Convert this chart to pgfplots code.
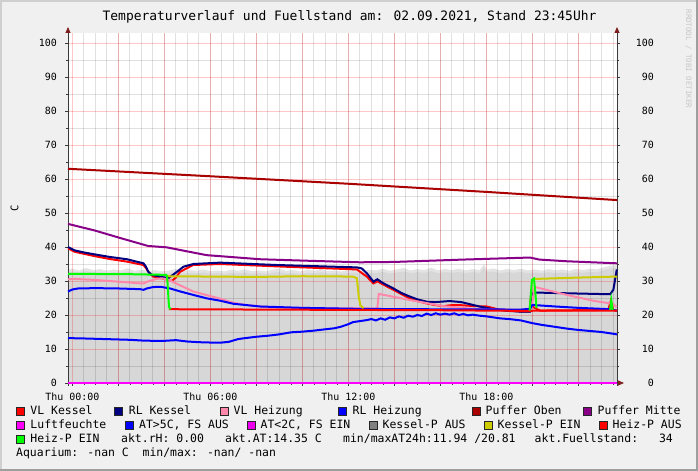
\documentclass[border=0pt]{standalone}
\usepackage{fontspec}
\setmainfont{DejaVu Sans Mono}
\usepackage{xcolor}
\usepackage{pgfplots}
\pgfplotsset{compat=1.18}
\usetikzlibrary{arrows.meta}
\definecolor{bg}{HTML}{F0F0F0}
\definecolor{shadea}{HTML}{CFCFCF}
\definecolor{shadeb}{HTML}{9E9E9E}
\definecolor{axiscol}{HTML}{3A3A3A}
\definecolor{arrowcol}{HTML}{7F1F1F}
\definecolor{cVLK}{HTML}{FF0000}
\definecolor{cRLK}{HTML}{000080}
\definecolor{cVLH}{HTML}{FF88AA}
\definecolor{cRLH}{HTML}{0000FF}
\definecolor{cPO}{HTML}{AA0000}
\definecolor{cPM}{HTML}{880088}
\definecolor{cLF}{HTML}{FF00FF}
\definecolor{cAT}{HTML}{0000FF}
\definecolor{cAT2}{HTML}{EE00EE}
\definecolor{cKPA}{HTML}{808080}
\definecolor{cKPE}{HTML}{CCCC00}
\definecolor{cHPA}{HTML}{FF0000}
\definecolor{cHPE}{HTML}{00FF00}
\definecolor{areaA}{HTML}{D7D7D7}
\definecolor{areaB}{HTML}{E3E3E3}
\newcommand{\lgf}{\fontsize{11.5}{13}\selectfont}
\newcommand{\lbox}[3]{\fill[#3,draw=black!85,line width=0.6bp] (#1,#2-4) rectangle (#1+8,#2+4);}
\begin{document}%
\pagecolor{bg}%
\begin{tikzpicture}[x=1bp,y=1bp]
\path (0,0) rectangle (698,471);
\begin{axis}[
  at={(68bp,88bp)}, anchor=south west,
  width=549bp, height=350bp, scale only axis,
  set layers, clip=false,
  xmin=-0.19, xmax=23.68, ymin=0, ymax=102.94,
  axis background/.style={fill=white},
  axis line style={draw=none},
  unbounded coords=jump,
  xtick={0,2,...,22},
  xticklabels={Thu 00:00,,,Thu 06:00,,,Thu 12:00,,,Thu 18:00,,},
  minor xtick={0.5,1,...,23.5},
  ytick={0,10,...,100},
  yticklabels={0,10,20,30,40,50,60,70,80,90,100},
  minor ytick={5,15,...,95},
  grid=both,
  major grid style={draw=red, opacity=0.22, line width=0.75bp},
  minor grid style={draw=black, opacity=0.12, line width=0.75bp},
  tick align=outside, xtick pos=bottom, ytick pos=both, yticklabel pos=left,
  major tick length=3bp, minor tick length=2bp,
  tick style={color=axiscol, line width=0.7bp},
  tick label style={font=\fontsize{10}{12}\selectfont, inner sep=0pt},
  xticklabel style={anchor=base, yshift=-15bp},
  yticklabel style={anchor=east, xshift=-8bp},
  ylabel={C},
  every axis y label/.style={at={(rel axis cs:0,0.5)}, xshift=-53.5bp, rotate=90, anchor=center, font=\fontsize{10.5}{12}\selectfont},
  title={Temperaturverlauf und Fuellstand am: 02.09.2021, Stand 23:45Uhr},
  every axis title/.style={at={(rel axis cs:0.5128,1)}, anchor=base, yshift=12.3bp, font=\fontsize{13}{15}\selectfont},
]
% Fuellstand area (light envelope and main)
\addplot[fill=areaB, draw=none, on layer=axis background] coordinates {
(-0.19,33.4) (0.0,33.6) (0.3,33.1) (0.6,33.8) (0.9,33.2) (1.2,33.5) (1.5,33.0) (1.8,33.4) (2.1,33.1) (2.4,33.7) (2.7,33.0) (3.0,33.3) (3.3,32.9) (3.6,33.2) (3.9,32.8) (4.2,33.1) (4.5,33.5) (4.8,32.9) (5.1,33.2) (5.4,33.0) (5.7,33.4) (6.0,32.9) (6.3,33.1) (6.6,32.8) (6.9,33.3) (7.2,33.0) (7.5,33.4) (7.8,32.9) (8.1,33.1) (8.4,32.8) (8.7,33.3) (9.0,33.6) (9.3,33.0) (9.6,33.2) (9.9,32.8) (10.2,33.3) (10.5,33.0) (10.8,33.5) (11.1,32.9) (11.4,33.1) (11.7,32.8) (12.0,33.1) (12.3,33.4) (12.6,32.9) (12.9,33.3) (13.2,33.1) (13.5,33.6) (13.8,33.0) (14.1,33.4) (14.4,33.8) (14.7,33.1) (15.0,33.5) (15.3,33.2) (15.6,33.9) (15.9,33.1) (16.2,33.5) (16.5,33.2) (16.8,33.6) (17.1,33.1) (17.4,33.5) (17.7,33.2) (17.9,34.9) (18.0,33.3) (18.3,33.7) (18.6,33.1) (18.9,33.5) (19.2,33.2) (19.5,33.6) (19.8,33.1) (20.1,33.4) (20.4,33.0) (20.7,33.5) (21.0,33.1) (21.3,33.4) (21.6,33.0) (21.9,33.5) (22.2,33.2) (22.5,33.6) (22.8,33.4) (23.1,34.0) (23.4,34.5) (23.68,34.7)
} \closedcycle;
\addplot[fill=areaA, draw=none, on layer=axis background] coordinates {
(-0.19,32.6) (0.0,32.8) (0.3,32.4) (0.6,32.9) (0.9,32.5) (1.2,32.7) (1.5,32.3) (1.8,32.6) (2.1,32.4) (2.4,32.8) (2.7,32.3) (3.0,32.5) (3.3,32.2) (3.6,32.4) (3.9,32.0) (4.2,32.3) (4.5,32.6) (4.8,32.1) (5.1,32.4) (5.4,32.2) (5.7,32.5) (6.0,32.1) (6.3,32.3) (6.6,32.0) (6.9,32.4) (7.2,32.2) (7.5,32.5) (7.8,32.1) (8.1,32.3) (8.4,32.0) (8.7,32.4) (9.0,32.6) (9.3,32.2) (9.6,32.3) (9.9,32.0) (10.2,32.4) (10.5,32.2) (10.8,32.6) (11.1,32.1) (11.4,32.3) (11.7,32.0) (12.0,32.3) (12.3,32.5) (12.6,32.1) (12.9,32.4) (13.2,32.3) (13.5,32.7) (13.8,32.2) (14.1,32.5) (14.4,32.8) (14.7,32.3) (15.0,32.6) (15.3,32.4) (15.6,32.9) (15.9,32.3) (16.2,32.6) (16.5,32.4) (16.8,32.7) (17.1,32.3) (17.4,32.6) (17.7,32.4) (17.9,33.8) (18.0,32.5) (18.3,32.8) (18.6,32.3) (18.9,32.6) (19.2,32.4) (19.5,32.7) (19.8,32.3) (20.1,32.5) (20.4,32.2) (20.7,32.6) (21.0,32.3) (21.3,32.5) (21.6,32.2) (21.9,32.6) (22.2,32.4) (22.5,32.7) (22.8,32.5) (23.1,33.2) (23.4,33.6) (23.68,33.8)
} \closedcycle;
% axis lines
\draw[axiscol, line width=0.8bp, -{Triangle[length=6bp,width=5bp,color=arrowcol]}] ([yshift=-3bp]rel axis cs:0,0) -- ([yshift=6bp]rel axis cs:0,1);
\draw[axiscol, line width=0.8bp, -{Triangle[length=6bp,width=5bp,color=arrowcol]}] ([yshift=-3bp]rel axis cs:1,0) -- ([yshift=6bp]rel axis cs:1,1);
\draw[axiscol, line width=0.8bp, -{Triangle[length=6bp,width=5bp,color=arrowcol]}] ([xshift=-3bp]rel axis cs:0,0) -- ([xshift=7bp]rel axis cs:1,0);
% VL Kessel
\addplot[cVLK, line width=2bp] coordinates {
(-0.19,39.6) (0.1,38.6) (0.5,38.0) (0.91,37.4) (1.6,36.5) (2.37,35.7) (3.09,34.7) (3.2,33.8) (3.35,32.3) (3.51,31.3) (4.1,30.5) (4.32,30.0) (4.5,31.0) (4.68,32.7) (5.25,34.7) (6.42,35.0) (8.89,34.3) (12.37,33.4) (12.8,31.3) (13.09,29.3) (13.26,29.9) (13.5,29.0) (13.96,27.4) (14.4,25.8) (14.83,24.4) (15.41,23.4) (15.8,22.9) (16.13,22.6) (16.5,22.9) (16.86,22.9) (17.5,22.6) (18.02,22.5) (18.6,21.5) (19.47,21.0) (19.87,21.0) (19.93,24.9) (20.0,22.5) (20.12,22.0) (20.33,21.3) (23.3,21.5) (23.41,24.1) (23.52,21.5) (23.67,21.2)
};
% RL Kessel
\addplot[cRLK, line width=2bp] coordinates {
(-0.19,40.0) (0.1,39.0) (0.5,38.4) (0.91,37.9) (1.6,37.1) (2.37,36.4) (3.09,35.2) (3.2,34.2) (3.3,32.7) (3.45,31.8) (3.81,31.3) (4.17,30.8) (4.47,32.3) (4.83,34.2) (5.26,35.0) (6.42,35.4) (8.89,34.7) (12.37,34.0) (12.58,33.7) (12.8,32.3) (13.09,29.8) (13.26,30.5) (13.5,29.4) (13.96,27.8) (14.3,26.5) (14.68,25.4) (15.0,24.6) (15.41,23.9) (15.8,23.8) (16.4,24.1) (16.9,23.8) (17.15,23.4) (17.7,22.5) (18.3,21.7) (19.0,21.2) (19.47,21.0) (19.9,21.0) (20.04,26.4) (20.12,26.6) (23.38,26.1) (23.52,27.4) (23.67,33.4)
};
% VL Heizung
\addplot[cVLH, line width=2bp] coordinates {
(-0.19,30.5) (0.1,30.6) (1,30.3) (2,29.8) (2.94,29.3) (3.1,29.3) (3.3,29.9) (3.65,30.6) (3.9,30.8) (4.17,30.4) (4.5,29.3) (5.26,26.9) (6.42,24.8) (7.0,23.6) (7.6,22.9) (8.5,22.3) (10,22.0) (13.2,21.9) (13.26,22.0) (13.32,26.2) (14.68,24.4) (16.13,22.6) (17.58,21.7) (19.5,21.5) (19.95,21.6) (20.1,28.2) (20.19,28.1) (21.5,25.9) (22.65,24.2) (23.38,23.4) (23.45,23.6) (23.67,22.3)
};
% RL Heizung
\addplot[cRLH, line width=2bp] coordinates {
(-0.19,26.9) (0.0,27.5) (0.25,27.8) (1,27.9) (2,27.8) (2.94,27.6) (3.1,27.4) (3.23,27.8) (3.5,28.2) (3.81,28.3) (4.0,28.1) (4.25,27.8) (4.7,26.9) (5.26,25.9) (5.84,24.9) (6.42,24.2) (7,23.3) (8.16,22.5) (10,22.1) (12.5,21.8) (15,21.7) (19.5,21.6) (19.9,21.8) (20.0,23.0) (20.12,22.9) (21,22.5) (22,22.1) (23.38,21.7) (23.67,21.3)
};
% Puffer Oben
\addplot[cPO, line width=2bp] coordinates {
(-0.19,63.0) (6,60.8) (12,58.6) (18,56.2) (23.68,53.8)
};
% Puffer Mitte
\addplot[cPM, line width=2bp] coordinates {
(-0.19,46.8) (1,44.8) (2,42.8) (3.29,40.3) (4.1,39.9) (5.0,38.7) (5.84,37.6) (7,37.0) (8.16,36.4) (10,36.0) (12.5,35.5) (14,35.6) (17,36.3) (19.9,36.9) (20.3,36.3) (21.5,35.8) (23.68,35.2)
};
% Luftfeuchte / AT<2C
\addplot[cLF, line width=2bp] coordinates {(-0.19,0) (23.68,0)};
% AT>5C
\addplot[cAT, line width=2bp] coordinates {
(-0.19,13.2) (0.5,13.1) (1,13.0) (1.5,12.9) (2,12.8) (2.5,12.7) (3,12.5) (3.5,12.4) (4,12.4) (4.5,12.6) (5,12.2) (5.5,12.0) (6.0,11.9) (6.5,11.9) (6.8,12.1) (7.0,12.5) (7.2,12.9) (7.4,13.1) (8,13.6) (8.5,13.9) (9,14.3) (9.5,14.9) (10,15.1) (10.5,15.4) (11,15.8) (11.4,16.1) (11.7,16.6) (12.0,17.3) (12.2,17.9) (12.5,18.2) (12.8,18.5) (13.0,18.8) (13.2,18.4) (13.4,19.0) (13.6,18.6) (13.8,19.3) (14.0,19.0) (14.2,19.6) (14.4,19.2) (14.6,19.8) (14.8,19.5) (15.0,20.0) (15.2,19.7) (15.4,20.4) (15.6,20.0) (15.8,20.5) (16.0,20.1) (16.2,20.4) (16.4,20.1) (16.6,20.5) (16.8,20.0) (17.0,20.3) (17.2,19.9) (17.4,20.1) (17.7,19.8) (18.0,19.6) (18.3,19.3) (18.6,19.0) (19.0,18.8) (19.5,18.4) (20.0,17.6) (20.4,17.1) (21.0,16.5) (21.5,16.0) (22.0,15.6) (22.5,15.3) (23.0,15.0) (23.4,14.6) (23.68,14.3)
};
% Kessel-P EIN
\addplot[cKPE, line width=2bp] coordinates {
(4.1,31.4) (6,31.3) (8,31.2) (10,31.4) (12.2,31.3) (12.37,30.8) (12.45,25.4) (12.52,22.9) (12.66,22.0) (12.7,nan) (20.1,30.6) (22,31.0) (23.68,31.3)
};
% Heiz-P AUS
\addplot[cHPA, line width=2bp] coordinates {
(4.2,21.7) (8,21.6) (12,21.5) (16,21.4) (19.85,21.2) (20.2,21.3) (23.68,21.3)
};
% Heiz-P EIN
\addplot[cHPE, line width=2bp] coordinates {
(-0.19,32.1) (2.5,32.0) (3.3,31.9) (4.08,31.8) (4.12,31.3) (4.2,22.4) (4.27,21.7) (4.28,nan) (19.88,21.3) (19.98,30.3) (20.07,30.7) (20.13,26.5) (20.18,22.0) (20.19,nan) (23.38,21.5) (23.43,24.4) (23.49,21.5)
};
\end{axis}
\begin{axis}[
  at={(68bp,88bp)}, anchor=south west,
  width=549bp, height=350bp, scale only axis,
  set layers,
  xmin=-0.19, xmax=23.68, ymin=0, ymax=102.94,
  axis line style={draw=none},
  xtick=\empty,
  ytick={0,10,...,100},
  yticklabels={0,10,20,30,40,50,60,70,80,90,100},
  yticklabel pos=right, ytick style={draw=none},
  tick label style={font=\fontsize{10}{12}\selectfont, inner sep=0pt},
  yticklabel style={anchor=east, xshift=37bp},
]
\end{axis}
% frame
\fill[shadea] (0,0) rectangle (2,471);
\fill[shadea] (0,469) rectangle (698,471);
\fill[shadeb] (696,0) rectangle (698,471);
\fill[shadeb] (0,0) rectangle (698,2);
% watermark
\node[rotate=-90, text=black!22, font=\fontsize{7.5}{9}\selectfont] at (688.5,412) {RRDTOOL / TOBI OETIKER};
% legend
\lbox{16}{60}{cVLK}   \node[anchor=base west, inner sep=0pt, font=\lgf] at (30.3,56) {VL Kessel};
\lbox{114.5}{60}{cRLK} \node[anchor=base west, inner sep=0pt, font=\lgf] at (128.7,56) {RL Kessel};
\lbox{220}{60}{cVLH}  \node[anchor=base west, inner sep=0pt, font=\lgf] at (233.5,56) {VL Heizung};
\lbox{338}{60}{cRLH}  \node[anchor=base west, inner sep=0pt, font=\lgf] at (352.5,56) {RL Heizung};
\lbox{472}{60}{cPO}   \node[anchor=base west, inner sep=0pt, font=\lgf] at (485.5,56) {Puffer Oben};
\lbox{583}{60}{cPM}   \node[anchor=base west, inner sep=0pt, font=\lgf] at (597.5,56) {Puffer Mitte};
\lbox{16}{46}{cLF}    \node[anchor=base west, inner sep=0pt, font=\lgf] at (30.3,42) {Luftfeuchte};
\lbox{125.5}{46}{cAT} \node[anchor=base west, inner sep=0pt, font=\lgf] at (139,42) {AT>5C, FS AUS};
\lbox{247}{46}{cAT2}  \node[anchor=base west, inner sep=0pt, font=\lgf] at (260.5,42) {AT<2C, FS EIN};
\lbox{369.5}{46}{cKPA} \node[anchor=base west, inner sep=0pt, font=\lgf] at (382.5,42) {Kessel-P AUS};
\lbox{484.5}{46}{cKPE} \node[anchor=base west, inner sep=0pt, font=\lgf] at (497.5,42) {Kessel-P EIN};
\lbox{599}{46}{cHPA}  \node[anchor=base west, inner sep=0pt, font=\lgf] at (612.5,42) {Heiz-P AUS};
\lbox{16}{32}{cHPE}   \node[anchor=base west, inner sep=0pt, font=\lgf] at (30.3,28) {Heiz-P EIN};
\node[anchor=base west, inner sep=0pt, font=\lgf] at (121,28) {akt.rH: 0.00};
\node[anchor=base west, inner sep=0pt, font=\lgf] at (225,28) {akt.AT:14.35 C};
\node[anchor=base west, inner sep=0pt, font=\lgf] at (343,28) {min/maxAT24h:11.94 /20.81};
\node[anchor=base west, inner sep=0pt, font=\lgf] at (534.5,28) {akt.Fuellstand:};
\node[anchor=base east, inner sep=0pt, font=\lgf] at (673,28) {34};
\node[anchor=base west, inner sep=0pt, font=\lgf] at (16,14) {Aquarium: -nan C\ \ min/max: -nan/ -nan};
\end{tikzpicture}%
\end{document}
